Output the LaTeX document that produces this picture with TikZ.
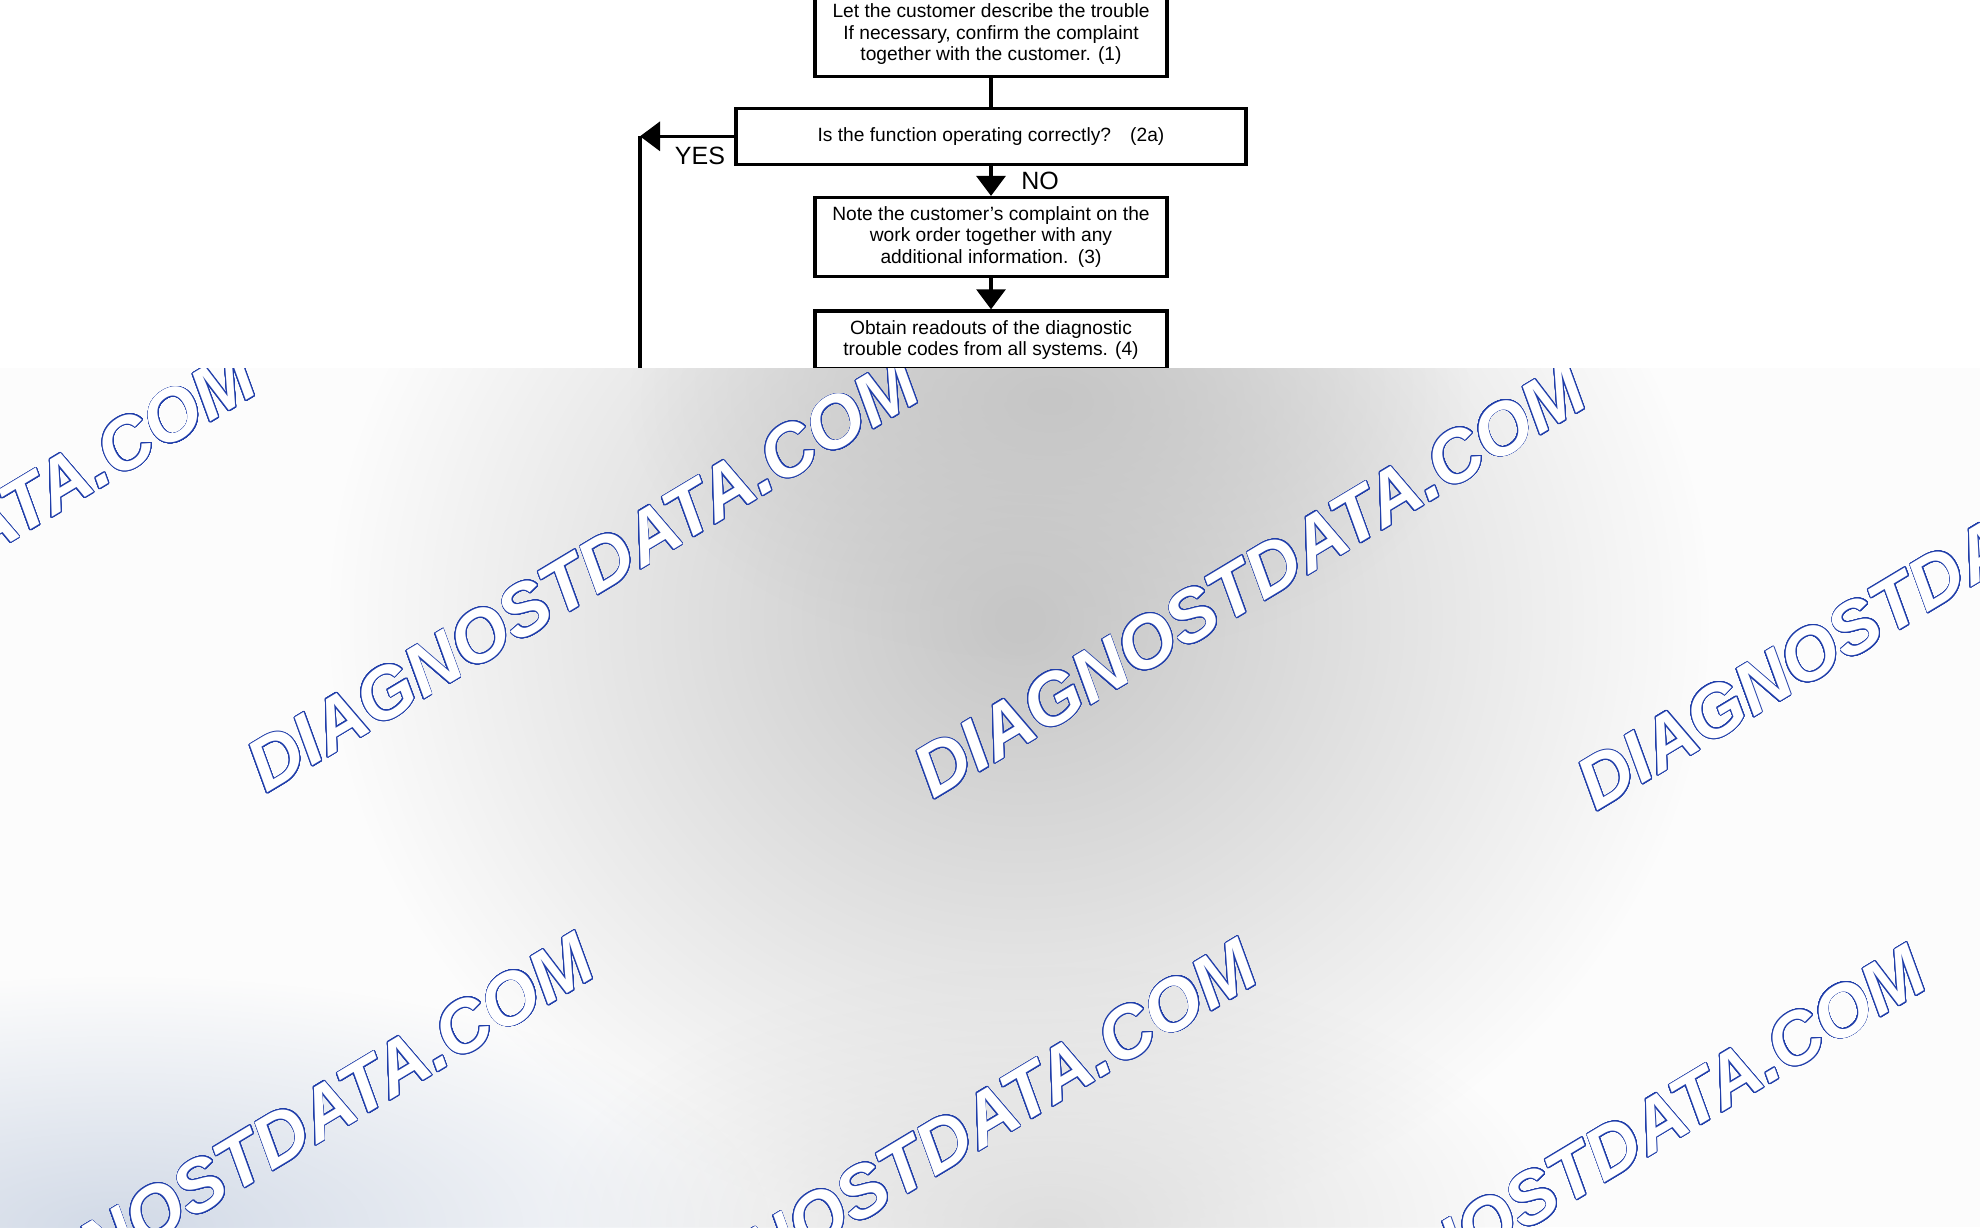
\documentclass[tikz,border=0pt]{standalone}
\usepackage{fontspec}
\setmainfont{Liberation Sans}
\newfontfamily\wmfont{Liberation Sans}
\usepackage{contour}
\usetikzlibrary{arrows.meta, positioning, fadings}
\definecolor{wmblue}{RGB}{32,62,170}
\definecolor{bandbase}{RGB}{252,252,252}
\definecolor{bandgray}{RGB}{198,198,198}
\definecolor{bandlight}{RGB}{222,222,222}
\definecolor{bandblue}{RGB}{210,218,231}
\tikzfading[name=softblob, inner color=transparent!0, outer color=transparent!100]
\contourlength{0.45pt}
\contournumber{32}

\begin{document}
\begin{tikzpicture}[
    x=0.5pt, y=-0.5pt,
    node distance=15pt,
    stepbox/.style={draw, line width=1.6pt, minimum width=176pt, align=center, inner sep=2pt, font=\fontsize{9.6}{10.75}\selectfont},
    line/.style={line width=1.6pt},
    arrow/.style={line width=1.6pt, -{Triangle[width=14.5pt,length=10pt]}},
    tag/.style={font=\fontsize{12.5}{14}\selectfont},
    wmark/.style={rotate=31, text=white, font=\wmfont\bfseries\itshape\fontsize{36.5}{40}\selectfont}
]
    \useasboundingbox (0,0) rectangle (1980,1227);

    \node[stepbox, minimum height=42pt] (describe) at (991,34.5) {Let the customer describe the trouble\\If necessary, confirm the complaint\\together with the customer. (1)};
    \node[stepbox, minimum width=255pt, minimum height=28pt, below=14.3pt of describe] (check) {Is the function operating correctly?\quad (2a)};
    \node[stepbox, minimum height=39.5pt, below=of check] (note) {Note the customer's complaint on the\\work order together with any\\additional information.\enspace (3)};
    \node[stepbox, minimum height=29pt, below=15.6pt of note] (readout) {Obtain readouts of the diagnostic\\trouble codes from all systems. (4)};

    \coordinate (back) at (check.west -| 640,0);
    \coordinate (backdown) at (640,400);
    \node[tag] (yes) at (700,156) {YES};
    \node[tag] (no) at (1040,181) {NO};

    \draw[line] (describe) -- (check);
    \draw[arrow] (check) -- (note);
    \draw[arrow] (note) -- (readout);
    \draw[arrow] (check.west) -- (back);
    \draw[line] (back) -- (backdown);

    % shaded band with watermark
    \begin{scope}
        \clip (0,368) rectangle (1980,1227);
        \fill[bandbase] (0,368) rectangle (1980,1227);
        \fill[bandgray, path fading=softblob] (1020,620) ellipse [x radius=690, y radius=620];
        \fill[bandgray, path fading=softblob] (1050,400) ellipse [x radius=420, y radius=260];
        \fill[bandlight, path fading=softblob] (1050,1227) ellipse [x radius=500, y radius=260];
        \fill[bandblue, path fading=softblob] (120,1227) ellipse [x radius=650, y radius=250];
        \foreach \wx/\wy [count=\i] in {-80/568, 583/575, 1250/581, 1913/593, 258/1151, 921/1157, 1590/1163}
            \node[wmark] (wm\i) at (\wx,\wy) {\contour{wmblue}{DIAGNOSTDATA.COM}};
    \end{scope}
\end{tikzpicture}
\end{document}
